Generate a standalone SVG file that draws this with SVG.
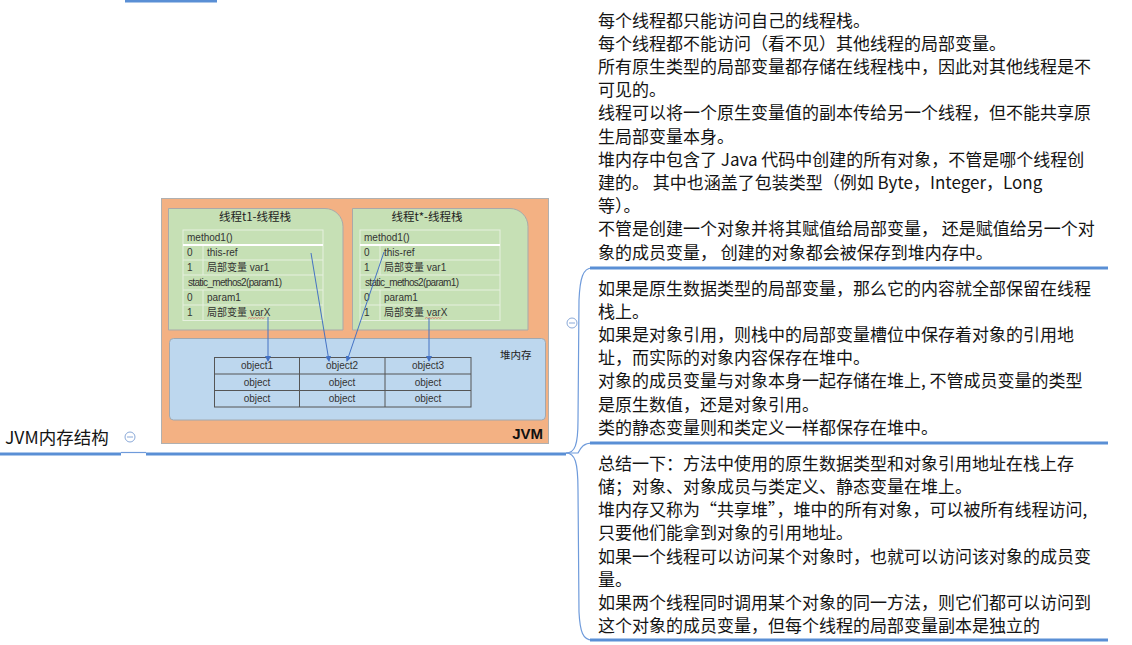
<svg xmlns="http://www.w3.org/2000/svg" width="1132" height="645" viewBox="0 0 1132 645">
<style>
.t{font-family:"Noto Sans CJK SC","Microsoft YaHei",sans-serif;font-size:17px;fill:#141414}
.ul{stroke:#5a8fd5;stroke-width:3;fill:none}
.cn{stroke:#6f9bdb;stroke-width:1.2;fill:none}
.col{fill:#fff;stroke:#8aa9d8;stroke-width:1}
.s{font-family:"Liberation Sans","Noto Sans CJK SC",sans-serif;font-size:10px;fill:#333}
.ti{font-family:"Noto Sans CJK SC",sans-serif;font-size:11.5px;fill:#222}
.stk{fill:#c6e0b5;stroke:#a9a9a9;stroke-width:1}
.tl{stroke:#e6f0df;stroke-width:1;fill:none}
.ol{stroke:#555;stroke-width:1;fill:none}
.ar{stroke:#4472c4;stroke-width:1;fill:none;marker-end:url(#ah)}
.o{font-family:"Liberation Sans",sans-serif;font-size:10px;fill:#333;text-anchor:middle}
</style>
<defs>
<marker id="ah" markerWidth="6" markerHeight="6" refX="5" refY="3" orient="auto" markerUnits="userSpaceOnUse">
<path d="M0,0 L6,3 L0,6 Z" fill="#4472c4"/>
</marker>
</defs>

<rect x="125" y="0" width="92" height="2.5" fill="#5a8fd5"/>

<g id="root">
<text class="t" x="5" y="444" style="font-size:17.5px">JVM内存结构</text>
<line class="ul" x1="0" y1="454" x2="121" y2="454"/>
<circle class="col" cx="130" cy="437" r="5"/>
<line x1="127" y1="437" x2="133" y2="437" stroke="#8aa9d8" stroke-width="1"/>
</g>

<g id="jvm-image">
<line class="ul" x1="146" y1="454" x2="566" y2="454"/>
<circle class="col" cx="572" cy="323" r="5"/>
<line x1="569" y1="323" x2="575" y2="323" stroke="#8aa9d8" stroke-width="1"/>
<rect x="161.5" y="198.5" width="387" height="245" fill="#f3b183" stroke="#b0b0b0" stroke-width="1"/>

<g id="thread-t1">
<path class="stk" d="M168.5,208.5 H325 A18,18 0 0 1 343,226.5 V330 H168.5 Z"/>
<text class="ti" x="255" y="221" text-anchor="middle">线程t1-线程栈</text>
<rect class="tl" x="183" y="230" width="140" height="90.5"/>
<line class="tl" x1="183" y1="260" x2="323" y2="260"/>
<line class="tl" x1="183" y1="275" x2="323" y2="275"/>
<line class="tl" x1="183" y1="290" x2="323" y2="290"/>
<line class="tl" x1="183" y1="305" x2="323" y2="305"/>
<line class="tl" x1="203" y1="245" x2="203" y2="275"/>
<line class="tl" x1="203" y1="290" x2="203" y2="320.5"/>
<line x1="183" y1="245" x2="323" y2="245" stroke="#fff" stroke-width="2"/>
<text class="s" x="187" y="241">method1()</text>
<text class="s" x="187" y="256">0</text><text class="s" x="207" y="256">this-ref</text>
<text class="s" x="187" y="271">1</text><text class="s" x="207" y="271">局部变量 var1</text>
<text class="s" x="188" y="286" textLength="94">static_methos2(param1)</text>
<text class="s" x="187" y="301">0</text><text class="s" x="207" y="301">param1</text>
<text class="s" x="187" y="316">1</text><text class="s" x="207" y="316">局部变量 varX</text>
<path d="M248,318.5 l1.5,-1 l1.5,1 l1.5,-1 l1.5,1 l1.5,-1 l1.5,1 l1.5,-1 l1.5,1 l1.5,-1 l1.5,1 l1.5,-1" stroke="#e05050" stroke-width="0.6" fill="none"/>
</g>

<g id="thread-tx">
<path class="stk" d="M352.5,208.5 H510 A18,18 0 0 1 528,226.5 V330 H352.5 Z"/>
<text class="ti" x="427" y="221" text-anchor="middle">线程t*-线程栈</text>
<rect class="tl" x="360" y="230" width="140" height="90.5"/>
<line class="tl" x1="360" y1="260" x2="500" y2="260"/>
<line class="tl" x1="360" y1="275" x2="500" y2="275"/>
<line class="tl" x1="360" y1="290" x2="500" y2="290"/>
<line class="tl" x1="360" y1="305" x2="500" y2="305"/>
<line class="tl" x1="380" y1="245" x2="380" y2="275"/>
<line class="tl" x1="380" y1="290" x2="380" y2="320.5"/>
<line x1="360" y1="245" x2="500" y2="245" stroke="#fff" stroke-width="2"/>
<text class="s" x="364" y="241">method1()</text>
<text class="s" x="364" y="256">0</text><text class="s" x="384" y="256">this-ref</text>
<text class="s" x="364" y="271">1</text><text class="s" x="384" y="271">局部变量 var1</text>
<text class="s" x="365" y="286" textLength="94">static_methos2(param1)</text>
<text class="s" x="364" y="301">0</text><text class="s" x="384" y="301">param1</text>
<text class="s" x="364" y="316">1</text><text class="s" x="384" y="316">局部变量 varX</text>
<path d="M425,318.5 l1.5,-1 l1.5,1 l1.5,-1 l1.5,1 l1.5,-1 l1.5,1 l1.5,-1 l1.5,1 l1.5,-1 l1.5,1 l1.5,-1" stroke="#e05050" stroke-width="0.6" fill="none"/>
</g>

<g id="heap">
<rect x="169.5" y="338.5" width="376" height="81.5" rx="4" fill="#bdd7ee" stroke="#a0a8b0" stroke-width="1"/>
<text class="ti" x="500" y="359" style="font-size:10.5px">堆内存</text>
<rect class="ol" x="214.5" y="357.5" width="256.5" height="49.5"/>
<line class="ol" x1="214.5" y1="374" x2="471" y2="374"/>
<line class="ol" x1="214.5" y1="390.5" x2="471" y2="390.5"/>
<line class="ol" x1="299.5" y1="357.5" x2="299.5" y2="407"/>
<line class="ol" x1="385" y1="357.5" x2="385" y2="407"/>
<text class="o" x="257" y="369">object1</text>
<text class="o" x="342" y="369">object2</text>
<text class="o" x="428" y="369">object3</text>
<text class="o" x="257" y="386">object</text>
<text class="o" x="342" y="386">object</text>
<text class="o" x="428" y="386">object</text>
<text class="o" x="257" y="402">object</text>
<text class="o" x="342" y="402">object</text>
<text class="o" x="428" y="402">object</text>
</g>
<text x="543" y="439" text-anchor="end" style="font-family:'Liberation Sans',sans-serif;font-size:15px;font-weight:bold;fill:#111">JVM</text>
</g>

<g id="connectors">
<line x1="121" y1="452.5" x2="146" y2="452.5" class="cn"/>
<path class="cn" d="M566,453 C575,453 578,445 578,420 L579,300 C580,278 583,268 592,268"/>
<path class="cn" d="M566,453 L578,453 C581,447 584,443 592,443"/>
<path class="cn" d="M566,453 C575,453 578,462 578,490 L579,612 C580,632 583,640 592,640"/>
<line class="ar" x1="268" y1="317" x2="268" y2="361"/>
<line class="ar" x1="311" y1="253" x2="329" y2="361"/>
<line class="ar" x1="384" y1="252" x2="347" y2="361"/>
<line class="ar" x1="429" y1="318" x2="429" y2="361"/>
</g>

<g id="note1">
<text class="t" x="598" y="26.5">
<tspan x="598" dy="0">每个线程都只能访问自己的线程栈。</tspan>
<tspan x="598" dy="23.2">每个线程都不能访问（看不见）其他线程的局部变量。</tspan>
<tspan x="598" dy="23.2">所有原生类型的局部变量都存储在线程栈中，因此对其他线程是不</tspan>
<tspan x="598" dy="23.2">可见的。</tspan>
<tspan x="598" dy="23.2">线程可以将一个原生变量值的副本传给另一个线程，但不能共享原</tspan>
<tspan x="598" dy="23.2">生局部变量本身。</tspan>
<tspan x="598" dy="23.2">堆内存中包含了 Java 代码中创建的所有对象，不管是哪个线程创</tspan>
<tspan x="598" dy="23.2">建的。 其中也涵盖了包装类型（例如 Byte，Integer，Long</tspan>
<tspan x="598" dy="23.2">等）。</tspan>
<tspan x="598" dy="23.2">不管是创建一个对象并将其赋值给局部变量， 还是赋值给另一个对</tspan>
<tspan x="598" dy="23.2">象的成员变量， 创建的对象都会被保存到堆内存中。</tspan>
</text>
<line class="ul" x1="590" y1="268" x2="1108" y2="268"/>
</g>

<g id="note2">
<text class="t" x="598" y="295">
<tspan x="598" dy="0">如果是原生数据类型的局部变量，那么它的内容就全部保留在线程</tspan>
<tspan x="598" dy="23.1">栈上。</tspan>
<tspan x="598" dy="23.1">如果是对象引用，则栈中的局部变量槽位中保存着对象的引用地</tspan>
<tspan x="598" dy="23.1">址，而实际的对象内容保存在堆中。</tspan>
<tspan x="598" dy="23.1">对象的成员变量与对象本身一起存储在堆上, 不管成员变量的类型</tspan>
<tspan x="598" dy="23.1">是原生数值，还是对象引用。</tspan>
<tspan x="598" dy="23.1">类的静态变量则和类定义一样都保存在堆中。</tspan>
</text>
<line class="ul" x1="590" y1="443" x2="1108" y2="443"/>
</g>

<g id="note3">
<text class="t" x="598" y="470">
<tspan x="598" dy="0">总结一下：方法中使用的原生数据类型和对象引用地址在栈上存</tspan>
<tspan x="598" dy="23.14">储；对象、对象成员与类定义、静态变量在堆上。</tspan>
<tspan x="598" dy="23.14">堆内存又称为“共享堆”，堆中的所有对象，可以被所有线程访问,</tspan>
<tspan x="598" dy="23.14">只要他们能拿到对象的引用地址。</tspan>
<tspan x="598" dy="23.14">如果一个线程可以访问某个对象时，也就可以访问该对象的成员变</tspan>
<tspan x="598" dy="23.14">量。</tspan>
<tspan x="598" dy="23.14">如果两个线程同时调用某个对象的同一方法，则它们都可以访问到</tspan>
<tspan x="598" dy="23.14">这个对象的成员变量，但每个线程的局部变量副本是独立的</tspan>
</text>
<line class="ul" x1="590" y1="640" x2="1108" y2="640"/>
</g>
</svg>
